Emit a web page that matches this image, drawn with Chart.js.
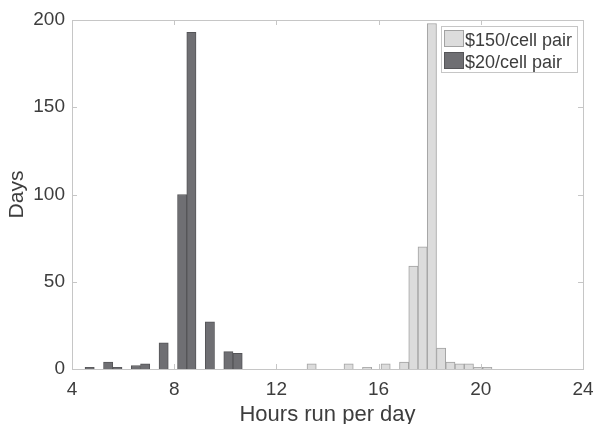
<!DOCTYPE html>
<html>
<head>
<meta charset="utf-8">
<script src="https://cdn.jsdelivr.net/npm/chart.js@4/dist/chart.umd.min.js"></script>
<style>
  body { margin: 0; background: #fff; }
  #wrap { width: 594px; height: 424px; }
</style>
</head>
<body>
<div id="wrap"><canvas id="hoursChart"></canvas></div>
<script>
// Histogram bin centres (hours) and day counts
const expensiveHours = [13.379, 14.827, 15.551, 16.275, 16.999, 17.361, 17.723, 18.085, 18.447, 18.809, 19.171, 19.533, 19.895, 20.257];
const expensiveDays = [3, 3, 1, 3, 4, 59, 70, 198, 12, 4, 3, 3, 1, 1];
const cheapHours = [4.691, 5.415, 5.777, 6.501, 6.863, 7.587, 8.311, 8.673, 9.397, 10.121, 10.483];
const cheapDays = [1, 4, 1, 2, 3, 15, 100, 193, 27, 10, 9];
const seriesLabels = ['$150/cell pair', '$20/cell pair'];
const xTicks = [4, 8, 12, 16, 20, 24];
const yTicks = [0, 50, 100, 150, 200];

const axisColor = '#c6c6c6';
const textColor = '#3d3d3d';

Chart.defaults.font.family = "'Liberation Sans', Arial, Helvetica, sans-serif";
Chart.defaults.color = textColor;

// box round the plot with small inward ticks, like the original figure
const boxAxes = {
    id: 'boxAxes',
    afterDatasetsDraw(chart) {
        const { ctx, chartArea: a, scales } = chart;
        const len = 5;
        ctx.save();
        ctx.strokeStyle = axisColor;
        ctx.lineWidth = 1;
        ctx.strokeRect(Math.round(a.left) + 0.5, Math.round(a.top) + 0.5,
            Math.round(a.right - a.left), Math.round(a.bottom - a.top));
        ctx.beginPath();
        xTicks.forEach(v => {
            const px = Math.round(scales.x.getPixelForValue(v)) + 0.5;
            ctx.moveTo(px, a.bottom); ctx.lineTo(px, a.bottom - len);
            ctx.moveTo(px, a.top); ctx.lineTo(px, a.top + len);
        });
        yTicks.forEach(v => {
            const py = Math.round(scales.y.getPixelForValue(v)) + 0.5;
            ctx.moveTo(a.left, py); ctx.lineTo(a.left + len, py);
            ctx.moveTo(a.right, py); ctx.lineTo(a.right - len, py);
        });
        ctx.stroke();
        ctx.restore();
    }
};

// legend box in the top right corner of the plot
const insideLegend = {
    id: 'insideLegend',
    afterDraw(chart) {
        const { ctx, chartArea: a } = chart;
        const boxW = 136, boxH = 46;
        const x0 = Math.round(a.right) - 142, y0 = Math.round(a.top) + 6;
        ctx.save();
        ctx.fillStyle = '#fff';
        ctx.fillRect(x0, y0, boxW, boxH);
        ctx.strokeStyle = axisColor;
        ctx.strokeRect(x0 + 0.5, y0 + 0.5, boxW, boxH);
        ctx.font = "18px 'Liberation Sans', Arial, sans-serif";
        ctx.textBaseline = 'alphabetic';
        chart.data.datasets.forEach((ds, i) => {
            const sy = y0 + 4 + i * 22;
            ctx.fillStyle = ds.borderColor;
            ctx.fillRect(x0 + 3, sy, 20, 17);
            ctx.fillStyle = ds.backgroundColor;
            ctx.fillRect(x0 + 4, sy + 1, 18, 15);
            ctx.fillStyle = textColor;
            ctx.fillText(ds.label, x0 + 24, sy + 16);
        });
        ctx.restore();
    }
};

const hoursChart = new Chart(
    document.getElementById('hoursChart'),
    {
        type: 'bar',
        data: {
            datasets: [{
                label: seriesLabels[0],
                data: expensiveHours.map((h, i) => ({ x: h, y: expensiveDays[i] })),
                backgroundColor: '#dcdcdc',
                borderColor: '#a2a2a2',
                borderWidth: 1
            }, {
                label: seriesLabels[1],
                data: cheapHours.map((h, i) => ({ x: h, y: cheapDays[i] })),
                backgroundColor: '#6f6f73',
                borderColor: '#555558',
                borderWidth: 1
            }]
        },
        options: {
            responsive: true,
            maintainAspectRatio: false,
            animation: false,
            grouped: false,
            barPercentage: 1,
            categoryPercentage: 1,
            layout: { padding: { top: 20, right: 11, left: 0, bottom: 0 } },
            plugins: {
                legend: { display: false },
                tooltip: { enabled: false }
            },
            scales: {
                x: {
                    type: 'linear',
                    min: 4,
                    max: 24,
                    offset: false,
                    afterBuildTicks: (axis) => { axis.ticks = xTicks.map(v => ({ value: v })); },
                    afterFit: (axis) => {
                        axis.height = 55;
                        axis.paddingLeft = 0;
                        axis.paddingRight = 0;
                    },
                    grid: { display: false, drawTicks: false, offset: false },
                    border: { display: false },
                    ticks: { font: { size: 19 }, padding: 9, maxRotation: 0 },
                    title: {
                        display: true,
                        text: 'Hours run per day',
                        font: { size: 22, lineHeight: 0.8 },
                        padding: { top: 0, bottom: 0 }
                    }
                },
                y: {
                    min: 0,
                    max: 200,
                    afterBuildTicks: (axis) => { axis.ticks = yTicks.map(v => ({ value: v })); },
                    afterFit: (axis) => {
                        axis.width = 72;
                        axis.paddingTop = 0;
                        axis.paddingBottom = 0;
                    },
                    grid: { display: false, drawTicks: false },
                    border: { display: false },
                    ticks: { font: { size: 19 }, padding: 7 },
                    title: {
                        display: true,
                        text: 'Days',
                        font: { size: 21 },
                        padding: { top: 5, bottom: 0 }
                    }
                }
            }
        },
        plugins: [boxAxes, insideLegend]
    }
);
</script>
</body>
</html>
